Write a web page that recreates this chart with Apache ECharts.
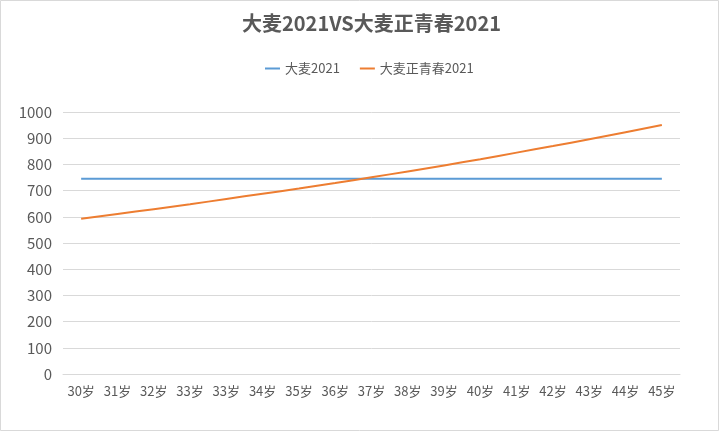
<!DOCTYPE html>
<html>
<head>
<meta charset="utf-8">
<script src="https://cdn.jsdelivr.net/npm/echarts@6/dist/echarts.min.js"></script>
<style>html,body{margin:0;padding:0;background:#fff;}#c{width:720px;height:432px;}</style>
</head>
<body>
<div id="c"></div>
<script>
const categories = ['30岁','31岁','32岁','33岁','33岁','34岁','35岁','36岁','37岁','38岁','39岁','40岁','41岁','42岁','43岁','44岁','45岁'];
const damai2021 = [745,745,745,745,745,745,745,745,745,745,745,745,745,745,745,745,745];
const damaiZqc2021 = [593,611,629,648,668,688,708,729,751,773,796,820,845,870,896,923,950];
const yTicks = [0,100,200,300,400,500,600,700,800,900,1000];

const chart = echarts.init(document.getElementById('c'));
const font = '"Noto Sans CJK SC", "Noto Sans", sans-serif';
chart.setOption({
  backgroundColor: '#ffffff',
  animation: false,
  textStyle: { fontFamily: font },
  title: {
    text: '大麦2021VS大麦正青春2021',
    left: 237,
    top: 8,
    textStyle: { fontSize: 20, fontWeight: 'bold', color: '#595959', fontFamily: font }
  },
  legend: {
    top: 57,
    left: 260,
    itemGap: 20,
    itemWidth: 15,
    itemHeight: 2,
    icon: 'rect',
    textStyle: { fontSize: 13, color: '#595959', fontFamily: font },
    data: ['大麦2021', '大麦正青春2021']
  },
  grid: { left: 63, right: 40, top: 112, bottom: 58, containLabel: false },
  xAxis: {
    type: 'category',
    data: categories,
    boundaryGap: true,
    axisLine: { show: true, lineStyle: { color: '#D9D9D9' } },
    axisTick: { show: false },
    axisLabel: { interval: 0, fontSize: 13, color: '#595959', margin: 11, fontFamily: font },
    splitLine: { show: false }
  },
  yAxis: {
    type: 'value',
    min: yTicks[0],
    max: yTicks[yTicks.length - 1],
    interval: 100,
    axisLine: { show: false },
    axisTick: { show: false },
    axisLabel: { fontSize: 15, color: '#595959', margin: 11, fontFamily: font, formatter: v => String(v) },
    splitLine: { lineStyle: { color: '#D9D9D9', width: 1 } }
  },
  graphic: [{
    type: 'rect',
    shape: { x: 0.5, y: 0.5, width: 718, height: 430 },
    style: { fill: 'none', stroke: '#D9D9D9', lineWidth: 1 },
    silent: true
  }],
  series: [
    {
      name: '大麦2021',
      type: 'line',
      data: damai2021,
      showSymbol: false,
      symbol: 'none',
      lineStyle: { color: '#5B9BD5', width: 2 },
      itemStyle: { color: '#5B9BD5' }
    },
    {
      name: '大麦正青春2021',
      type: 'line',
      data: damaiZqc2021,
      smooth: true,
      showSymbol: false,
      symbol: 'none',
      lineStyle: { color: '#ED7D31', width: 2 },
      itemStyle: { color: '#ED7D31' }
    }
  ]
});
</script>
</body>
</html>
